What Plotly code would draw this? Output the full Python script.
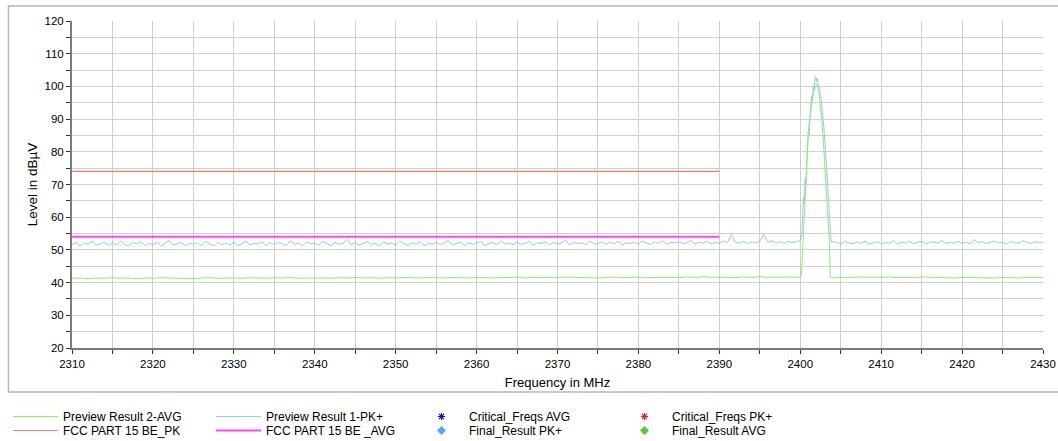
import numpy as np
import plotly.graph_objects as go

# ---------------- data ----------------
# Preview Result 1-PK+ (peak detector trace), dBuV
pk_base_start, pk_base_step = 2310.0, 0.5
pk_base_vals = [
    51.6, 52.3, 51.2, 52.0, 51.8, 52.6, 51.4, 51.9, 52.4, 51.3,
    52.1, 51.5, 52.8, 51.7, 51.2, 52.2, 51.9, 52.5, 51.4, 52.0,
    51.6, 52.4, 51.1, 52.1, 52.9, 51.5, 51.8, 52.3, 51.3, 52.0,
    51.7, 52.2, 51.4, 52.6, 51.9, 51.2, 52.3, 51.6, 52.1, 51.5,
    52.4, 51.3, 51.9, 52.7, 51.5, 52.0, 51.8, 52.5, 51.2, 52.2,
    51.6, 52.3, 51.9, 51.4, 52.8, 51.7, 52.1, 51.3, 52.4, 51.8,
    52.0, 51.5, 52.6, 51.9, 51.3, 52.3, 51.7, 52.1, 53.2, 51.6,
    52.2, 51.4, 51.9, 52.5, 51.6, 52.0, 51.3, 52.4, 51.8, 52.1,
    51.5, 52.7, 51.9, 51.4, 52.2, 51.7, 52.6, 51.2, 52.0, 51.8,
    52.3, 51.6, 52.1, 52.9, 51.5, 51.9, 52.4, 51.3, 52.2, 51.7,
    52.0, 52.5, 51.4, 51.9, 52.3, 51.6, 52.8, 51.8, 52.1, 51.5,
    52.4, 51.7, 52.0, 52.6, 51.4, 52.2, 51.9, 52.5, 51.6, 52.3,
    51.8, 52.1, 53.0, 51.5, 52.4, 51.9, 52.2, 51.6, 52.7, 51.8,
    52.0, 52.5, 51.7, 52.3, 51.9, 52.6, 51.5, 52.2, 52.0, 52.4,
    51.8, 52.7, 52.1, 51.6, 52.4, 52.0, 52.8, 51.7, 52.3, 52.1,
    52.5, 51.9, 52.2, 52.9, 51.8, 52.4, 52.1, 52.6, 51.9, 52.3,
    52.0, 52.7, 52.2, 54.8, 52.3, 52.1, 52.6, 52.0, 52.4, 52.2,
    52.6, 54.7, 52.3, 52.8, 52.1, 52.5, 52.0, 52.6, 52.2, 52.4,
]
pk_peak_freq = [2400.0, 2400.2, 2400.3, 2400.4, 2400.5, 2400.6, 2400.7, 2400.8, 2400.9,
                2401.0, 2401.1, 2401.2, 2401.3, 2401.4, 2401.5, 2401.6, 2401.7, 2401.8, 2401.9,
                2402.0, 2402.1, 2402.2, 2402.3, 2402.4, 2402.5, 2402.6, 2402.7, 2402.8, 2402.9,
                2403.0, 2403.1, 2403.2, 2403.3, 2403.4, 2403.5, 2403.6, 2403.7, 2403.8, 2403.9,
                2404.0]
pk_peak_vals = [52.8, 55.0, 62.0, 66.0, 64.0, 72.0, 70.0, 76.0, 82.0,
                86.0, 85.0, 92.0, 94.0, 97.0, 96.0, 100.0, 99.0, 102.0, 103.0,
                101.5, 102.5, 101.0, 100.5, 99.0, 97.5, 96.0, 93.0, 91.0, 88.0,
                85.0, 81.0, 78.0, 72.0, 69.0, 63.0, 60.0, 55.0, 53.0, 52.2,
                52.6]
pk_tail_start, pk_tail_step = 2404.5, 0.5
pk_tail_vals = [
    52.3, 51.8, 52.6, 52.1, 51.9, 52.4, 52.0, 52.7, 51.8, 52.2,
    52.5, 51.9, 52.3, 52.0, 52.8, 51.7, 52.4, 52.1, 52.6, 51.9,
    52.2, 52.7, 51.8, 52.3, 52.5, 52.0, 52.9, 51.9, 52.3, 52.1,
    52.6, 52.0, 52.4, 51.8, 53.1, 52.2, 52.5, 51.9, 52.3, 52.7,
    52.1, 52.4, 51.8, 52.6, 52.2, 52.0, 52.8, 52.3, 51.9, 52.5, 52.2, 52.4,
]

# Preview Result 2-AVG (average detector trace), dBuV
avg_base_start, avg_base_step = 2310.0, 1.0
avg_base_vals = [
    41.3, 41.4, 41.2, 41.4, 41.3, 41.5, 41.3, 41.4, 41.2, 41.4,
    41.3, 41.5, 41.4, 41.3, 41.4, 41.2, 41.4, 41.5, 41.3, 41.4,
    41.4, 41.3, 41.5, 41.4, 41.3, 41.5, 41.4, 41.6, 41.3, 41.4,
    41.5, 41.4, 41.3, 41.5, 41.4, 41.6, 41.4, 41.5, 41.3, 41.5,
    41.4, 41.6, 41.5, 41.4, 41.6, 41.5, 41.4, 41.6, 41.5, 41.4,
    41.6, 41.5, 41.4, 41.6, 41.5, 41.7, 41.4, 41.6, 41.5, 41.6,
    41.5, 41.7, 41.6, 41.5, 41.6, 41.4, 41.6, 41.7, 41.5, 41.6,
    41.7, 41.5, 41.6, 41.7, 41.6, 41.5, 41.7, 41.6, 41.8, 41.6,
    41.7, 41.6, 41.5, 41.7, 41.6, 41.8, 41.6, 41.7, 41.6, 41.7,
]
avg_peak_freq = [2400.0, 2400.1, 2400.2, 2400.3, 2400.4, 2400.5, 2400.6, 2400.7, 2400.8, 2400.9,
                 2401.0, 2401.1, 2401.2, 2401.3, 2401.4, 2401.5, 2401.6, 2401.7, 2401.8, 2401.9,
                 2402.0, 2402.1, 2402.2, 2402.3, 2402.4, 2402.5, 2402.6, 2402.7, 2402.8, 2402.9,
                 2403.0, 2403.1, 2403.2, 2403.3, 2403.4, 2403.5, 2403.6, 2403.7, 2403.8, 2403.9,
                 2404.0]
avg_peak_vals = [41.6, 42.0, 45.0, 50.0, 56.0, 62.0, 68.0, 74.0, 79.0, 83.0,
                 86.0, 89.0, 91.0, 93.0, 95.0, 96.5, 97.5, 98.5, 99.5, 100.3,
                 100.8, 100.5, 99.5, 98.0, 96.0, 94.0, 91.5, 88.5, 85.5, 82.0,
                 78.0, 74.0, 69.0, 64.0, 59.0, 55.0, 53.0, 42.0, 41.5, 41.6,
                 41.4]
avg_tail_start, avg_tail_step = 2405.0, 1.0
avg_tail_vals = [
    41.6, 41.5, 41.7, 41.6, 41.5, 41.6, 41.7, 41.5, 41.6, 41.5,
    41.7, 41.6, 41.5, 41.6, 41.4, 41.6, 41.5, 41.6, 41.5, 41.4,
    41.6, 41.5, 41.4, 41.6, 41.5, 41.5,
]

# Limit lines
limit_freq = [2310, 2390]
limit_pk = [74, 74]
limit_avg = [54, 54]

x_ticks = [2310, 2320, 2330, 2340, 2350, 2360, 2370, 2380, 2390, 2400, 2410, 2420, 2430]
y_ticks = [20, 30, 40, 50, 60, 70, 80, 90, 100, 110, 120]


def sweep(start, step, vals):
    return [start + i * step for i in range(len(vals))]


pk_x = sweep(pk_base_start, pk_base_step, pk_base_vals) + pk_peak_freq + sweep(pk_tail_start, pk_tail_step, pk_tail_vals)
pk_y = pk_base_vals + pk_peak_vals + pk_tail_vals
avg_x = sweep(avg_base_start, avg_base_step, avg_base_vals) + avg_peak_freq + sweep(avg_tail_start, avg_tail_step, avg_tail_vals)
avg_y = avg_base_vals + avg_peak_vals + avg_tail_vals

# ---------------- style ----------------
FONT = "Liberation Sans, Arial, sans-serif"
GREEN = "#8CF064"
BLUE = "#94C8F6"
RED = "#F47A7A"
MAGENTA = "#FF44FF"
GRID = "#CFCFCF"
AXIS = "#7A7A7A"
ITEMW = 45
PLOT_W = 1058 - 72 - 15.3
PLOT_H = 348 - 21

fig = go.Figure()

# row 1 legend
fig.add_trace(go.Scatter(x=pk_x, y=pk_y, mode="lines", name="Preview Result 1-PK+",
                         line=dict(color=BLUE, width=1), legend="legend", legendrank=2))
fig.add_trace(go.Scatter(x=avg_x, y=avg_y, mode="lines", name="Preview Result 2-AVG",
                         line=dict(color=GREEN, width=1), legend="legend", legendrank=1))
fig.add_trace(go.Scatter(x=[None], y=[None], mode="markers", name="Critical_Freqs AVG",
                         marker=dict(symbol="asterisk-open", size=6, color="#1010C0",
                                     line=dict(color="#1010C0", width=1.2)),
                         legend="legend", legendrank=3))
fig.add_trace(go.Scatter(x=[None], y=[None], mode="markers", name="Critical_Freqs PK+",
                         marker=dict(symbol="asterisk-open", size=6, color="#E02020",
                                     line=dict(color="#E02020", width=1.2)),
                         legend="legend", legendrank=4))
# row 2 legend
fig.add_trace(go.Scatter(x=limit_freq, y=limit_pk, mode="lines", name="FCC PART 15 BE_PK",
                         line=dict(color=RED, width=1.2), legend="legend2", legendrank=1))
fig.add_trace(go.Scatter(x=limit_freq, y=limit_avg, mode="lines", name="FCC PART 15 BE _AVG",
                         line=dict(color=MAGENTA, width=2), legend="legend2", legendrank=2))
fig.add_trace(go.Scatter(x=[None], y=[None], mode="markers", name="Final_Result PK+",
                         marker=dict(symbol="diamond", size=7, color="#5AA8E8"),
                         legend="legend2", legendrank=3))
fig.add_trace(go.Scatter(x=[None], y=[None], mode="markers", name="Final_Result AVG",
                         marker=dict(symbol="diamond", size=7, color="#5CC83C"),
                         legend="legend2", legendrank=4))

leg_common = dict(orientation="h", xanchor="left", yanchor="top", x=(8 - 72) / PLOT_W,
                  entrywidth=203 - ITEMW - 15, entrywidthmode="pixels", itemwidth=ITEMW,
                  font=dict(family=FONT, size=12, color="#000000"),
                  bgcolor="rgba(0,0,0,0)", borderwidth=0, traceorder="normal")

fig.update_layout(
    width=1058, height=441,
    margin=dict(l=72, r=15.3, t=21, b=93, autoexpand=False),
    paper_bgcolor="white", plot_bgcolor="white",
    font=dict(family=FONT, color="#000000"),
    showlegend=True,
    legend=dict(leg_common, y=-(402 - 348) / PLOT_H),
    legend2=dict(leg_common, y=-(416 - 348) / PLOT_H),
    xaxis=dict(range=[2310, 2430], tickvals=x_ticks, ticktext=[str(v) for v in x_ticks],
               automargin=False,
               showgrid=True, gridcolor=GRID, gridwidth=1,
               showline=True, linecolor=AXIS, linewidth=2, zeroline=False,
               ticks="outside", ticklen=4, tickcolor="#303030", tickwidth=1,
               minor=dict(dtick=5, tick0=2310, ticks="outside", ticklen=4, tickcolor="#303030",
                          showgrid=True, gridcolor=GRID, gridwidth=1),
               tickfont=dict(family=FONT, size=11.5, color="#000000"),
               title=dict(text="Frequency in MHz", font=dict(family=FONT, size=13, color="#000000"),
                          standoff=9)),
    yaxis=dict(range=[20, 120], tickvals=y_ticks, ticktext=[str(v) for v in y_ticks],
               automargin=False,
               showgrid=True, gridcolor=GRID, gridwidth=1,
               showline=True, linecolor=AXIS, linewidth=2, zeroline=False,
               ticks="outside", ticklen=4, tickcolor="#303030", tickwidth=1,
               minor=dict(dtick=5, tick0=20, ticks="outside", ticklen=4, tickcolor="#303030",
                          showgrid=True, gridcolor=GRID, gridwidth=1),
               tickfont=dict(family=FONT, size=11.5, color="#000000"),
               title=dict(text="Level in dBµV", font=dict(family=FONT, size=13.5, color="#000000"),
                          standoff=4)),
    shapes=[dict(type="rect", xref="paper", yref="paper",
                 x0=(8.5 - 72) / PLOT_W, x1=1.05, y0=-(392 - 348) / PLOT_H, y1=1 + (21 - 6) / PLOT_H,
                 line=dict(color="#B8B8B8", width=1.5), fillcolor="rgba(0,0,0,0)", layer="below")],
)

# remove the browser's default 8px body margin so the 1058x441 figure fills the window exactly
fig.write_html("out.html", config={"displayModeBar": False},
               post_script="document.body.style.margin='0px';")
